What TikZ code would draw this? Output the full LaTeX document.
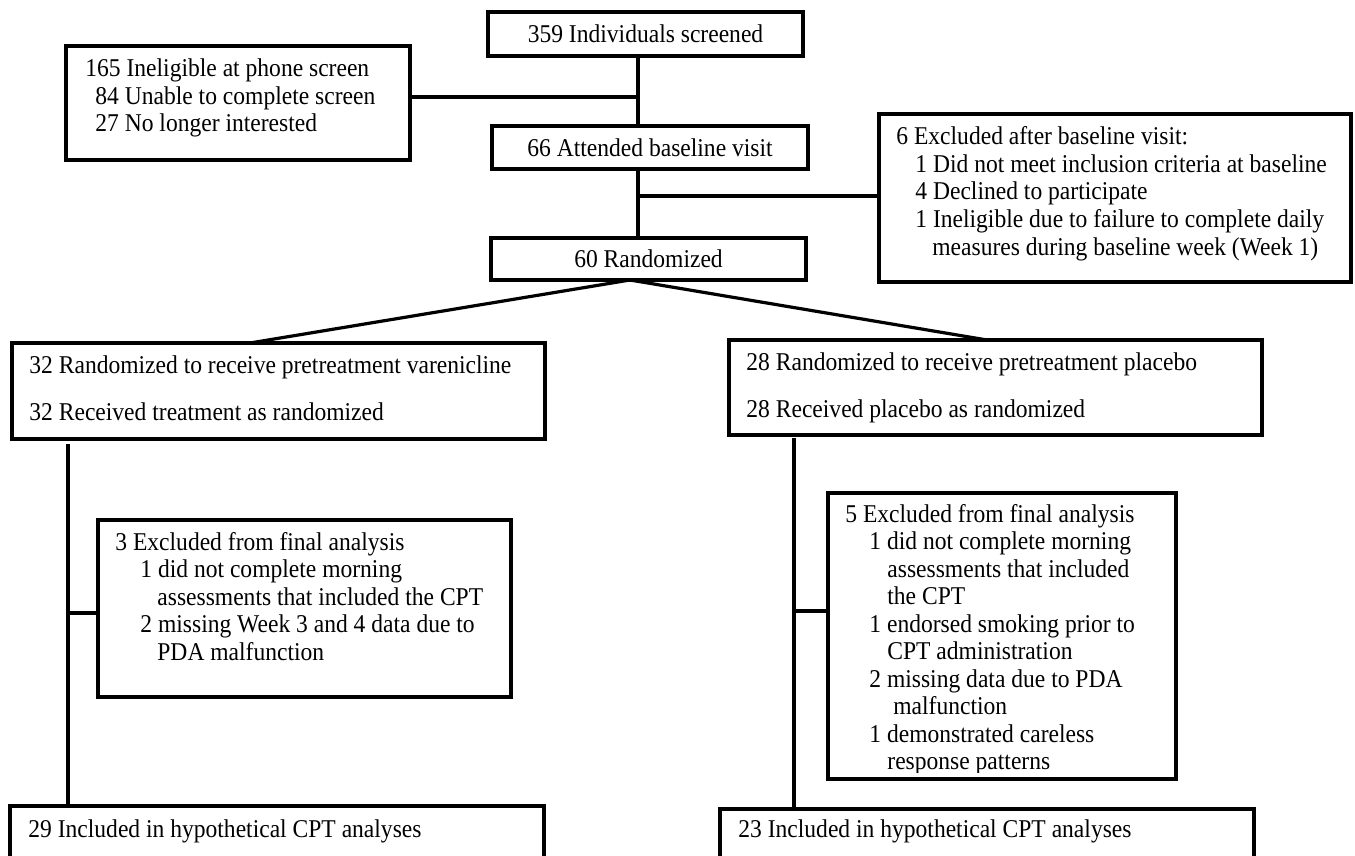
\documentclass[tikz,border=0pt]{standalone}
\usepackage{fontspec}
\setmainfont{Liberation Serif}[FakeStretch=0.92]
\begin{document}
\begin{tikzpicture}[x=0.5pt,y=-0.5pt,
  box/.style={draw, line width=1.6pt, rectangle, inner sep=0pt, outer sep=0pt, anchor=north west, font=\fontsize{12.8}{13.75}\selectfont},
  txt/.style={anchor=base west, inner sep=0pt, align=flush left, text width=260pt, font=\fontsize{12.8}{13.75}\selectfont},
  conn/.style={line width=1.6pt}]
\useasboundingbox (0,0) rectangle (1355,856);
% boxes
\node[box, minimum width=157.5pt, minimum height=22pt] (A) at (488,12) {359 Individuals screened};
\node[box, minimum width=172pt, minimum height=57pt] (B) at (66,46) {};
\node[box, minimum width=158pt, minimum height=21.5pt] (C) at (492,126) {66 Attended baseline visit};
\node[box, minimum width=236pt, minimum height=84pt] (D) at (879,114) {};
\node[box, minimum width=157.5pt, minimum height=21pt] (E) at (491,238) {60 Randomized};
\node[box, minimum width=266.5pt, minimum height=48pt] (F) at (12,343) {};
\node[box, minimum width=266.5pt, minimum height=47.5pt] (G) at (729,340) {};
\node[box, minimum width=206.5pt, minimum height=88.5pt] (H) at (98,520) {};
\node[box, minimum width=174pt, minimum height=143pt] (I) at (828,493) {};
\node[box, minimum width=267pt, minimum height=40pt] (J) at (10,806) {};
\node[box, minimum width=267pt, minimum height=40pt] (K) at (720,809) {};
% texts
\node[txt] (tB) at (85,77) {165 Ineligible at phone screen\\\hspace*{5pt}84 Unable to complete screen\\\hspace*{5pt}27 No longer interested};
\node[txt] (tD) at (896,145) {6 Excluded after baseline visit:\\\hspace*{9.5pt}1 Did not meet inclusion criteria at baseline\\\hspace*{9.5pt}4 Declined to participate\\\hspace*{9.5pt}1 Ineligible due to failure to complete daily\\\hspace*{18pt}measures during baseline week (Week 1)};
\node[txt] (tF) at (29,373) {32 Randomized to receive pretreatment varenicline\\[9.75pt]32 Received treatment as randomized};
\node[txt] (tG) at (746,370) {28 Randomized to receive pretreatment placebo\\[9.75pt]28 Received placebo as randomized};
\node[txt] (tH) at (115,550) {3 Excluded from final analysis\\\hspace*{12.5pt}1 did not complete morning\\\hspace*{21pt}assessments that included the CPT\\\hspace*{12.5pt}2 missing Week 3 and 4 data due to\\\hspace*{21pt}PDA malfunction};
\begin{scope}
\clip (828,493) rectangle (1176,772);
\node[txt] (tI) at (845,522) {5 Excluded from final analysis\\\hspace*{12pt}1 did not complete morning\\\hspace*{21pt}assessments that included\\\hspace*{21pt}the CPT\\\hspace*{12pt}1 endorsed smoking prior to\\\hspace*{21pt}CPT administration\\\hspace*{12pt}2 missing data due to PDA\\\hspace*{24pt}malfunction\\\hspace*{12pt}1 demonstrated careless\\\hspace*{21pt}response patterns};
\end{scope}
\node[txt] (tJ) at (28,837) {29 Included in hypothetical CPT analyses};
\node[txt] (tK) at (738,837) {23 Included in hypothetical CPT analyses};
% connectors
\coordinate (v1) at (638,97);
\coordinate (v2) at (638,196);
\coordinate (e0) at (630,280);
\coordinate (f0) at (250,343);
\coordinate (g0) at (987,340);
\coordinate (v3) at (68,613);
\coordinate (v4) at (794,611);
\draw[conn] (A.south -| v1) -- (C.north -| v1);
\draw[conn] (B.east |- v1) -- (v1);
\draw[conn] (C.south -| v2) -- (E.north -| v2);
\draw[conn] (v2) -- (D.west |- v2);
\draw[conn] (e0 |- E.south) -- (f0 |- F.north);
\draw[conn] (e0 |- E.south) -- (g0 |- G.north);
\draw[conn] (F.south -| v3) ++(0,5) -- (J.north -| v3);
\draw[conn] (v3) -- (H.west |- v3);
\draw[conn] (G.south -| v4) ++(0,3) -- (K.north -| v4);
\draw[conn] (v4) -- (I.west |- v4);
\end{tikzpicture}
\end{document}
